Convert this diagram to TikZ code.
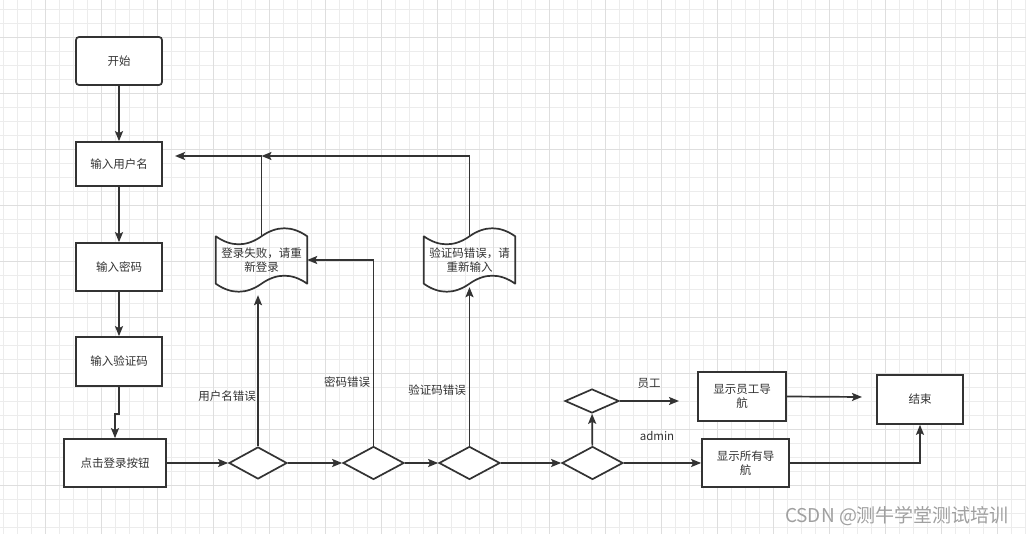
\documentclass[tikz,border=0pt]{standalone}
\usepackage{fontspec}
\setmainfont{Noto Sans CJK SC}
\usepackage{tikz}
\usetikzlibrary{shapes.geometric,arrows.meta}
\definecolor{line_grey}{RGB}{51,51,51}
\definecolor{grid_minor}{RGB}{236,236,236}
\definecolor{grid_major}{RGB}{222,222,222}
\definecolor{mark_grey}{RGB}{160,160,160}

\tikzset{
	box/.style={rectangle,draw=line_grey,line width=1.7pt,fill=white,inner sep=0pt,align=center},
	choice/.style={diamond,draw=line_grey,line width=1.7pt,fill=white,inner sep=0pt},
	tape/.style={rectangle,inner sep=0pt,minimum width=91pt,minimum height=47pt,align=center},
	flow/.style={draw=line_grey,line width=1.7pt,-{Stealth[length=10pt,width=8pt,inset=2pt]}},
	tag/.style={text=line_grey}
}

\begin{document}
\begin{tikzpicture}[x=1pt,y=-1pt,font=\fontsize{11.5}{14}\selectfont,text=line_grey]
	\useasboundingbox[fill=white] (0,0) rectangle (1026,534);
	% grid
	\foreach \x in {3,17,...,1026}
		\draw[grid_minor,line width=0.8pt] (\x,0) -- (\x,534);
	\foreach \y in {9,23,...,534}
		\draw[grid_minor,line width=0.8pt] (0,\y) -- (1026,\y);
	\foreach \x in {45,101,...,1026}
		\draw[grid_major,line width=0.8pt] (\x,0) -- (\x,534);
	\foreach \y in {37,93,...,534}
		\draw[grid_major,line width=0.8pt] (0,\y) -- (1026,\y);

	% left column
	\node[box,rounded corners=3pt,minimum width=86pt,minimum height=48pt] (start) at (119,61) {开始};
	\node[box,minimum width=86pt,minimum height=44pt] (user) at (119,164) {输入用户名};
	\node[box,minimum width=86pt,minimum height=48pt] (pwd) at (119,267) {输入密码};
	\node[box,minimum width=86pt,minimum height=49pt] (code) at (119,361.5) {输入验证码};
	\node[box,minimum width=102pt,minimum height=48pt] (login) at (115,463) {点击登录按钮};

	% decisions
	\node[choice,minimum width=58pt,minimum height=32pt] (d1) at (258,463) {};
	\node[choice,minimum width=61pt,minimum height=33pt] (d2) at (373.5,463) {};
	\node[choice,minimum width=61pt,minimum height=33pt] (d3) at (469.5,463) {};
	\node[choice,minimum width=61pt,minimum height=33pt] (d4) at (592.5,463) {};
	\node[choice,minimum width=54pt,minimum height=24pt] (d5) at (592,401) {};

	% results
	\node[box,minimum width=88pt,minimum height=49pt] (empl) at (742,396.5) {显示员工导\\航};
	\node[box,minimum width=87pt,minimum height=48pt] (alln) at (745.5,463) {显示所有导\\航};
	\node[box,minimum width=86pt,minimum height=49pt] (finish) at (920,399.5) {结束};

	% error notes
	\node[tape] (doc1) at (261.5,260) {登录失败，请重\\新登录};
	\node[tape] (doc2) at (469.5,260) {验证码错误，请\\重新输入};
	\foreach \d in {doc1,doc2}
		\draw[line_grey,line width=1.7pt,line join=round]
			(\d.north west) .. controls +(15.2,10.7) and +(-15.2,10.7) .. (\d.north)
			.. controls +(15.2,-10.7) and +(-15.2,-10.7) .. (\d.north east)
			-- (\d.south east)
			.. controls +(-15.2,-10.7) and +(15.2,-10.7) .. (\d.south)
			.. controls +(-15.2,10.7) and +(15.2,10.7) .. (\d.south west)
			-- cycle;

	\coordinate (back) at (175,156);
	\coordinate (staff) at (679,401);
	\coordinate (done) at (862,397);

	% connectors
	\foreach \a/\b in {start/user,user/pwd,pwd/code}
		\draw[flow] (\a) -- (\b);
	\draw[flow] (code.south) -- ++(0,27) -| (login.north);
	\foreach \a/\b in {login/d1,d1/d2,d2/d3,d3/d4,d4/alln}
		\draw[flow] (\a) -- (\b);
	\draw[flow] (d4) -- (d5);
	\draw[flow] (d5.east) -- (staff);
	\draw[flow] (empl.east) -- (done);
	\draw[flow] (alln.east) -| (finish.south);
	\draw[flow,shorten >=11.5pt] (d1.north) -- (d1.north |- doc1.south);
	\draw[flow] (d2.north) |- (doc1.east);
	\draw[flow,shorten >=3.5pt] (d3.north) -- (d3.north |- doc2.south);
	\draw[flow] (doc1.north) |- (back);
	\draw[flow] (doc2.north) |- (doc1.north |- back);

	% labels
	\node[tag] (l1) at (227,396) {用户名错误};
	\node[tag] (l2) at (347,382) {密码错误};
	\node[tag] (l3) at (437,390) {验证码错误};
	\node[tag] (l4) at (649,383) {员工};
	\node[tag] (l5) at (657,436) {admin};

	\node[text=mark_grey,font=\fontsize{19}{22}\selectfont] (mark) at (897,516) {CSDN @测牛学堂测试培训};
\end{tikzpicture}
\end{document}
